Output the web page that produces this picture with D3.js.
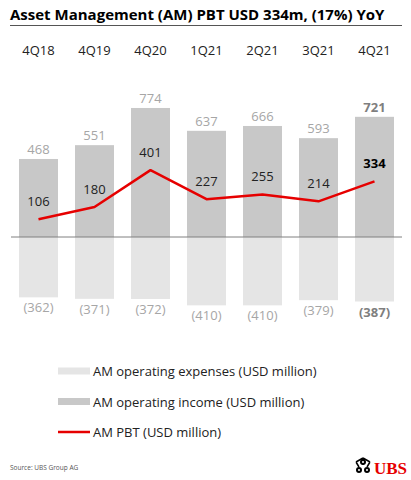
<!DOCTYPE html>
<html>
<head>
<meta charset="utf-8">
<script src="https://cdn.jsdelivr.net/npm/d3@7"></script>
<style>
  body { margin: 0; background: #fff; }
  svg { font-family: "Open Sans", "Noto Sans", sans-serif; }
</style>
</head>
<body>
<svg id="chart"></svg>
<script>
let quarters = ['4Q18', '4Q19', '4Q20', '1Q21', '2Q21', '3Q21', '4Q21']
let income = [468, 551, 774, 637, 666, 593, 721]
let expenses = [-362, -371, -372, -410, -410, -379, -387]
let pbt = [106, 180, 401, 227, 255, 214, 334]
let legendLabels = [
    'AM operating expenses (USD million)',
    'AM operating income (USD million)',
    'AM PBT (USD million)',
]

let opts = {
    width: 411,
    height: 480,
    left: 11,
    right: 402,
    baseline: 237,
    pxPerUnit: 0.1667,
    fontSize: 13,
}

let colors = {
    income: '#c8c8c8',
    expenses: '#e5e5e5',
    pbt: '#e60000',
    grey: '#a6a6a6',
    text: '#222',
}

let svg = d3.select('#chart')
    .attr('width', opts.width)
    .attr('height', opts.height)

// title
svg.append('text')
    .attr('x', 10)
    .attr('y', 20)
    .attr('font-size', 15)
    .attr('font-weight', 'bold')
    .attr('fill', '#000')
    .text('Asset Management (AM) PBT USD 334m, (17%) YoY')

svg.append('line')
    .attr('x1', 10).attr('x2', 402)
    .attr('y1', 25.5).attr('y2', 25.5)
    .attr('stroke', '#555')
    .attr('stroke-width', 1)

let x = d3.scaleBand()
    .domain(quarters)
    .range([10.5, 402.5])
    .paddingInner(0.304)
    .paddingOuter(0.152)

let y = d3.scaleLinear()
    .domain([0, 1000])
    .range([opts.baseline, opts.baseline - 1000 * opts.pxPerUnit])

// category axis on top, no line or ticks
let xAxis = d3.axisTop(x).tickSize(0).tickPadding(0)
let gx = svg.append('g')
    .attr('transform', 'translate(0,55)')
    .call(xAxis)
gx.select('.domain').remove()
gx.selectAll('text')
    .attr('font-size', opts.fontSize)
    .attr('font-family', '"Open Sans", "Noto Sans", sans-serif')
    .attr('fill', colors.text)

// expense bars
svg.selectAll('rect.exp').data(expenses)
    .enter().append('rect')
    .attr('class', 'exp')
    .attr('x', (d, i) => x(quarters[i]))
    .attr('width', x.bandwidth())
    .attr('y', y(0))
    .attr('height', d => y(d) - y(0))
    .attr('fill', colors.expenses)

// income bars
svg.selectAll('rect.inc').data(income)
    .enter().append('rect')
    .attr('class', 'inc')
    .attr('x', (d, i) => x(quarters[i]))
    .attr('width', x.bandwidth())
    .attr('y', d => y(d))
    .attr('height', d => y(0) - y(d))
    .attr('fill', colors.income)

// baseline
svg.append('line')
    .attr('x1', opts.left).attr('x2', opts.right)
    .attr('y1', y(0)).attr('y2', y(0))
    .attr('stroke', '#808080')
    .attr('stroke-width', 1)

let last = quarters.length - 1
let cx = (d, i) => x(quarters[i]) + x.bandwidth() / 2

// income labels
svg.selectAll('text.inc').data(income)
    .enter().append('text')
    .attr('class', 'inc')
    .attr('x', cx)
    .attr('y', d => y(d) - 5)
    .attr('text-anchor', 'middle')
    .attr('font-size', opts.fontSize)
    .attr('font-weight', (d, i) => i === last ? 'bold' : 'normal')
    .attr('fill', (d, i) => i === last ? '#7f7f7f' : colors.grey)
    .text(d => d)

// expense labels
svg.selectAll('text.exp').data(expenses)
    .enter().append('text')
    .attr('class', 'exp')
    .attr('x', cx)
    .attr('y', d => y(d) + 15)
    .attr('text-anchor', 'middle')
    .attr('font-size', opts.fontSize)
    .attr('font-weight', (d, i) => i === last ? 'bold' : 'normal')
    .attr('fill', (d, i) => i === last ? '#7f7f7f' : colors.grey)
    .text(d => '(' + Math.abs(d) + ')')

// PBT line
let line = d3.line()
    .x(cx)
    .y(d => y(d))

svg.append('path')
    .datum(pbt)
    .attr('d', line)
    .attr('fill', 'none')
    .attr('stroke', colors.pbt)
    .attr('stroke-width', 2.5)
    .attr('stroke-linejoin', 'round')

svg.selectAll('text.pbt').data(pbt)
    .enter().append('text')
    .attr('class', 'pbt')
    .attr('x', cx)
    .attr('y', d => y(d) - 13)
    .attr('text-anchor', 'middle')
    .attr('font-size', opts.fontSize)
    .attr('font-weight', (d, i) => i === last ? 'bold' : 'normal')
    .attr('fill', (d, i) => i === last ? '#000' : colors.text)
    .text(d => d)

// legend
let legend = svg.append('g').attr('transform', 'translate(58,371)')
legendLabels.forEach((label, i) => {
    let g = legend.append('g').attr('transform', 'translate(0,' + i * 30.5 + ')')
    if (i < 2) {
        g.append('rect')
            .attr('x', 0).attr('y', -3.5)
            .attr('width', 32).attr('height', 7)
            .attr('fill', i === 0 ? colors.expenses : colors.income)
    } else {
        g.append('line')
            .attr('x1', 0).attr('x2', 32)
            .attr('y1', 0).attr('y2', 0)
            .attr('stroke', colors.pbt)
            .attr('stroke-width', 2.5)
    }
    g.append('text')
        .attr('x', 35)
        .attr('y', 5)
        .attr('font-size', opts.fontSize)
        .attr('fill', colors.text)
        .text(label)
})

// source
svg.append('text')
    .attr('x', 10)
    .attr('y', 470)
    .attr('font-size', 6.5)
    .attr('fill', '#555')
    .text('Source: UBS Group AG')

// logo
let logo = svg.append('g').attr('transform', 'translate(363,467)')
logo.append('circle').attr('cx', 0).attr('cy', -5).attr('r', 3).attr('fill', '#000')
logo.append('circle').attr('cx', -4).attr('cy', 3).attr('r', 3).attr('fill', '#000')
logo.append('circle').attr('cx', 4).attr('cy', 3).attr('r', 3).attr('fill', '#000')
logo.append('path')
    .attr('d', 'M0,-2 L0,-9 M0,-9 L-7,-5 M0,-9 L7,-5 M-4,0 L-7,-5 M4,0 L7,-5')
    .attr('stroke', '#000').attr('stroke-width', 1.5).attr('fill', 'none')
logo.append('circle').attr('cx', 0).attr('cy', -5).attr('r', 1).attr('fill', '#fff')
logo.append('circle').attr('cx', -4).attr('cy', 3).attr('r', 1).attr('fill', '#fff')
logo.append('circle').attr('cx', 4).attr('cy', 3).attr('r', 1).attr('fill', '#fff')
svg.append('text')
    .attr('x', 374)
    .attr('y', 474)
    .attr('font-family', '"Liberation Serif", "DejaVu Serif", serif')
    .attr('font-size', 17)
    .attr('font-weight', 'bold')
    .attr('fill', '#e60000')
    .text('UBS')
</script>
</body>
</html>
